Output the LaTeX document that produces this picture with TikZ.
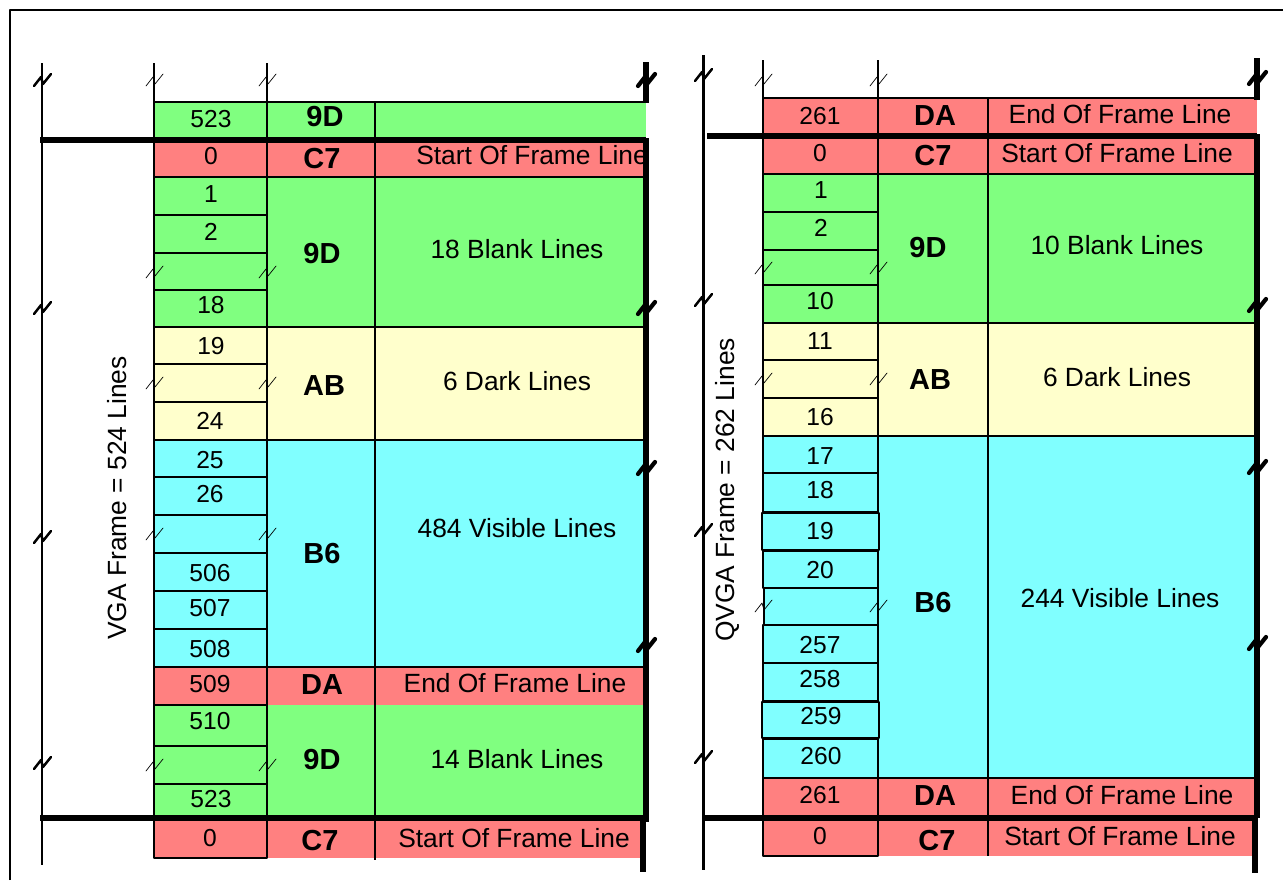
\documentclass[tikz,border=0pt]{standalone}
\usepackage{fontspec}
\setmainfont{Liberation Sans}
\usepackage{tikz}
\definecolor{blankgreen}{HTML}{80FF80}
\definecolor{framered}{HTML}{FF8080}
\definecolor{darkyellow}{HTML}{FFFFCC}
\definecolor{visiblecyan}{HTML}{80FFFF}
\tikzset{
  cell/.style={draw=black,line width=1.1pt},
  numtxt/.style={font=\fontsize{14}{16}\selectfont},
  codetxt/.style={font=\bfseries\fontsize{16.5}{19}\selectfont},
  desctxt/.style={font=\fontsize{15}{18}\selectfont},
  sidetxt/.style={font=\fontsize{15}{18}\selectfont,rotate=90},
  heavy/.style={line width=2.9pt},
  zig/.pic={\draw[line cap=round] (-8,6) -- (-1,-3) -- (1,4) -- (9,-6);}
}

\begin{document}
\begin{tikzpicture}[x=0.02cm,y=-0.02cm,line join=round]
\useasboundingbox (0,0) rectangle (1283,880);

%% outer frame
\draw[line width=1.2pt] (10,880) -- (10,10) -- (1283,10);

%% ---------------- left panel: VGA ----------------------------------
%% wide cells, block by block
\fill[blankgreen] (267,102) rectangle (646,140);
\fill[framered] (267,140) rectangle (646,177);
\fill[blankgreen] (267,177) rectangle (646,327);
\fill[darkyellow] (267,327) rectangle (646,440);
\fill[visiblecyan] (267,440) rectangle (646,667);
\fill[framered] (267,667) rectangle (646,705);
\fill[blankgreen] (267,705) rectangle (646,818);
\fill[framered] (267,818) rectangle (643,858);
\draw[cell] (154,102) -- (646,102);
\draw[cell] (267,177) -- (646,177);
\draw[cell] (267,327) -- (646,327);
\draw[cell] (267,440) -- (646,440);
\draw[cell] (267,667) -- (646,667);
\draw[cell] (375,102) -- (375,860);
%% line number cells
\draw[cell,fill=blankgreen] (154,102) rectangle (267,140);
\draw[cell,fill=framered] (154,140) rectangle (267,177);
\draw[cell,fill=blankgreen] (154,177) rectangle (267,215);
\draw[cell,fill=blankgreen] (154,215) rectangle (267,253);
\draw[cell,fill=blankgreen] (154,253) rectangle (267,290);
\draw[cell,fill=blankgreen] (154,290) rectangle (267,327);
\draw[cell,fill=darkyellow] (154,327) rectangle (267,364);
\draw[cell,fill=darkyellow] (154,364) rectangle (267,402);
\draw[cell,fill=darkyellow] (154,402) rectangle (267,440);
\draw[cell,fill=visiblecyan] (154,440) rectangle (267,477);
\draw[cell,fill=visiblecyan] (154,477) rectangle (267,515);
\draw[cell,fill=visiblecyan] (154,515) rectangle (267,553);
\draw[cell,fill=visiblecyan] (154,553) rectangle (267,591);
\draw[cell,fill=visiblecyan] (154,591) rectangle (267,629);
\draw[cell,fill=visiblecyan] (154,629) rectangle (267,667);
\draw[cell,fill=framered] (154,667) rectangle (267,705);
\draw[cell,fill=blankgreen] (154,705) rectangle (267,746);
\draw[cell,fill=blankgreen] (154,746) rectangle (267,784);
\draw[cell,fill=blankgreen] (154,784) rectangle (267,818);
\draw[cell,fill=framered] (154,818) rectangle (267,858);
\draw[cell] (154,63) -- (154,102);
\draw[cell] (267,63) -- (267,102);
%% texts
\node[numtxt] (va523) at (211,119) {523};
\node[codetxt] (vacode1) at (325,117) {9D};
\node[numtxt] (va0) at (211,156) {0};
\node[codetxt] (vacode2) at (322,159) {C7};
\begin{scope}
  \clip (375,140) rectangle (645,177);
  \node[desctxt] (vasof) at (532,155) {Start Of Frame Line};
\end{scope}
\node[numtxt] (va1) at (211,194) {1};
\node[numtxt] (va2) at (211,232) {2};
\node[numtxt] (va18) at (211,305) {18};
\node[codetxt] (vacode3) at (322,254) {9D};
\node[desctxt] (vablank) at (517,249) {18 Blank Lines};
\node[numtxt] (va19) at (211,346) {19};
\node[numtxt] (va24) at (210,421) {24};
\node[codetxt] (vacode4) at (324,386) {AB};
\node[desctxt] (vadark) at (517,381) {6 Dark Lines};
\node[numtxt] (va25) at (210,460) {25};
\node[numtxt] (va26) at (210,494) {26};
\node[numtxt] (va506) at (210,573) {506};
\node[numtxt] (va507) at (210,608) {507};
\node[numtxt] (va508) at (210,649) {508};
\node[codetxt] (vacode5) at (322,554) {B6};
\node[desctxt] (vavis) at (517,528) {484 Visible Lines};
\node[numtxt] (va509) at (210,684) {509};
\node[codetxt] (vacode6) at (322,685) {DA};
\node[desctxt] (vaeof) at (515,683) {End Of Frame Line};
\node[numtxt] (va510) at (210,721) {510};
\node[numtxt] (va523b) at (211,799) {523};
\node[codetxt] (vacode7) at (322,760) {9D};
\node[desctxt] (vablankb) at (517,759) {14 Blank Lines};
\node[numtxt] (va0b) at (210,838) {0};
\node[codetxt] (vacode8) at (320,840) {C7};
\node[desctxt] (vasofb) at (514,838) {Start Of Frame Line};
\node[sidetxt] (valen) at (117,498) {VGA Frame = 524 Lines};
%% frame bounds and breaks
\draw[line width=1.7pt] (42,63) -- (42,865);
\draw[heavy] (40,140) -- (646,140);
\draw[heavy] (40,818) -- (646,818);
\draw[heavy] (646,62) -- (646,103);
\draw[heavy] (646,138) -- (646,822);
\draw[heavy] (643,818) -- (643,872);
\foreach \yy in {80,272,383,534,765} {
  \pic at (154,\yy) {zig};
  \pic at (267,\yy) {zig};
}
\foreach \yy in {80,308,537,763}
  \pic[line width=1.4pt] at (42,\yy) {zig};
\foreach \yy in {80,308,468,645}
  \pic[line width=2.4pt] at (646,\yy) {zig};

%% ---------------- right panel: QVGA ---------------------------------
\fill[framered] (878,98) rectangle (1257,136);
\fill[framered] (878,136) rectangle (1257,174);
\fill[blankgreen] (878,174) rectangle (1257,323);
\fill[darkyellow] (878,323) rectangle (1257,436);
\fill[visiblecyan] (878,436) rectangle (1257,778);
\fill[framered] (878,778) rectangle (1257,818);
\fill[framered] (878,818) rectangle (1252,856);
\draw[cell] (763,98) -- (1257,98);
\draw[cell] (878,174) -- (1257,174);
\draw[cell] (878,323) -- (1257,323);
\draw[cell] (878,436) -- (1257,436);
\draw[cell] (878,778) -- (1257,778);
\draw[cell] (988,98) -- (988,856);
\draw[cell,fill=framered] (763,98) rectangle (878,136);
\draw[cell,fill=framered] (763,136) rectangle (878,174);
\draw[cell,fill=blankgreen] (763,174) rectangle (878,212);
\draw[cell,fill=blankgreen] (763,212) rectangle (878,250);
\draw[cell,fill=blankgreen] (763,250) rectangle (878,285);
\draw[cell,fill=blankgreen] (763,285) rectangle (878,323);
\draw[cell,fill=darkyellow] (763,323) rectangle (878,360);
\draw[cell,fill=darkyellow] (763,360) rectangle (878,398);
\draw[cell,fill=darkyellow] (763,398) rectangle (878,436);
\draw[cell,fill=visiblecyan] (763,436) rectangle (878,473);
\draw[cell,fill=visiblecyan] (763,473) rectangle (878,512);
\draw[cell,fill=visiblecyan,line width=1.6pt] (762,513) rectangle (879,550);
\draw[cell,fill=visiblecyan] (763,551) rectangle (878,588);
\draw[cell,fill=visiblecyan] (764,588) rectangle (878,625);
\draw[cell,fill=visiblecyan] (763,625) rectangle (878,663);
\draw[cell,fill=visiblecyan] (763,663) rectangle (878,701);
\draw[cell,fill=visiblecyan,line width=1.6pt] (762,702) rectangle (879,738);
\draw[cell,fill=visiblecyan] (763,739) rectangle (878,778);
\draw[cell,fill=framered] (763,778) rectangle (878,818);
\draw[cell,fill=framered] (763,818) rectangle (878,856);
\draw[cell] (763,60) -- (763,98);
\draw[cell] (878,60) -- (878,98);
\node[numtxt] (qv261) at (820,116) {261};
\node[codetxt] (qvcode1) at (935,116) {DA};
\node[desctxt] (qveof) at (1120,114) {End Of Frame Line};
\node[numtxt] (qv0) at (820,153) {0};
\node[codetxt] (qvcode2) at (933,156) {C7};
\node[desctxt] (qvsof) at (1117,153) {Start Of Frame Line};
\node[numtxt] (qv1) at (821,190) {1};
\node[numtxt] (qv2) at (821,228) {2};
\node[numtxt] (qv10) at (820,301) {10};
\node[codetxt] (qvcode3) at (928,248) {9D};
\node[desctxt] (qvblank) at (1117,245) {10 Blank Lines};
\node[numtxt] (qv11) at (820,341) {11};
\node[numtxt] (qv16) at (820,417) {16};
\node[codetxt] (qvcode4) at (930,380) {AB};
\node[desctxt] (qvdark) at (1117,377) {6 Dark Lines};
\node[numtxt] (qv17) at (820,456) {17};
\node[numtxt] (qv18) at (820,490) {18};
\node[numtxt] (qv19) at (820,531) {19};
\node[numtxt] (qv20) at (820,570) {20};
\node[numtxt] (qv257) at (820,645) {257};
\node[numtxt] (qv258) at (820,679) {258};
\node[numtxt] (qv259) at (821,716) {259};
\node[numtxt] (qv260) at (821,756) {260};
\node[codetxt] (qvcode5) at (933,603) {B6};
\node[desctxt] (qvvis) at (1120,598) {244 Visible Lines};
\node[numtxt] (qv261b) at (820,795) {261};
\node[codetxt] (qvcode6) at (935,796) {DA};
\node[desctxt] (qveofb) at (1122,795) {End Of Frame Line};
\node[numtxt] (qv0b) at (820,836) {0};
\node[codetxt] (qvcode7) at (937,840) {C7};
\node[desctxt] (qvsofb) at (1120,836) {Start Of Frame Line};
\node[sidetxt] (qvlen) at (727,490) {QVGA Frame = 262 Lines};
\draw[line width=1.7pt] (703,55) -- (703,870);
\draw[heavy] (707,136) -- (1257,136);
\draw[heavy] (705,818) -- (1257,818);
\draw[heavy] (1257,58) -- (1257,100);
\draw[heavy] (1257,134) -- (1257,818);
\draw[heavy] (1255,818) -- (1255,873);
\foreach \yy in {80,268,379,606} {
  \pic at (763,\yy) {zig};
  \pic at (878,\yy) {zig};
}
\foreach \yy in {75,300,530,757}
  \pic[line width=1.4pt] at (703,\yy) {zig};
\foreach \yy in {78,305,467,643}
  \pic[line width=2.4pt] at (1257,\yy) {zig};

\end{tikzpicture}
\end{document}
